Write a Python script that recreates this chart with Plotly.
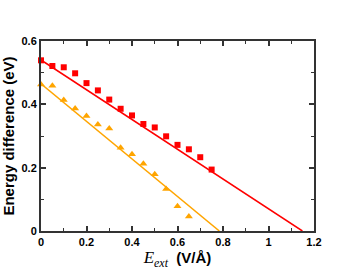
import plotly.graph_objects as go

red_x = [0.0, 0.05, 0.10, 0.15, 0.20, 0.25, 0.30, 0.35, 0.40, 0.45, 0.50, 0.55, 0.60, 0.65, 0.70, 0.75]
red_y = [0.539, 0.521, 0.517, 0.498, 0.467, 0.444, 0.415, 0.386, 0.365, 0.338, 0.327, 0.299, 0.272, 0.258, 0.233, 0.194]
orange_x = [0.0, 0.05, 0.10, 0.15, 0.20, 0.25, 0.30, 0.35, 0.40, 0.45, 0.50, 0.55, 0.60, 0.65]
orange_y = [0.463, 0.459, 0.414, 0.387, 0.363, 0.336, 0.324, 0.263, 0.242, 0.212, 0.179, 0.133, 0.078, 0.046]
red_fit_x = [0.0, 1.149]
red_fit_y = [0.54, 0.0]
orange_fit_x = [0.0, 0.784]
orange_fit_y = [0.465, 0.0]

x_ticks = [0, 0.2, 0.4, 0.6, 0.8, 1, 1.2]
x_ticklabels = ["0", "0.2", "0.4", "0.6", "0.8", "1", "1.2"]
y_ticks = [0, 0.2, 0.4, 0.6]
y_ticklabels = ["0", "0.2", "0.4", "0.6"]

RED = "#ff0000"
ORANGE = "#ffa500"

fig = go.Figure()
fig.add_trace(go.Scatter(x=red_fit_x, y=red_fit_y, mode="lines",
                         line=dict(color=RED, width=1.5), showlegend=False))
fig.add_trace(go.Scatter(x=orange_fit_x, y=orange_fit_y, mode="lines",
                         line=dict(color=ORANGE, width=1.5), showlegend=False))
fig.add_trace(go.Scatter(x=red_x, y=red_y, mode="markers",
                         marker=dict(symbol="square", size=6, color=RED), showlegend=False,
                         cliponaxis=False))
fig.add_trace(go.Scatter(x=orange_x, y=orange_y, mode="markers",
                         marker=dict(symbol="triangle-up", size=7, color=ORANGE), showlegend=False,
                         cliponaxis=False))

axis_common = dict(
    showline=True, linecolor="#333333", linewidth=2, mirror="ticks",
    ticks="inside", ticklen=5, tickwidth=1.5, tickcolor="#333333",
    showgrid=False, zeroline=False, automargin=False,
    tickfont=dict(family="Liberation Sans", size=11, color="#000000", weight="bold"),
)

fig.update_xaxes(
    range=[0, 1.2], tickvals=x_ticks, ticktext=x_ticklabels,
    minor=dict(ticks="inside", ticklen=3, tickwidth=1.2, tickcolor="#333333", dtick=0.1, tick0=0),
    title=dict(
        text="<span style='font-family:Liberation Serif;font-size:17px'><i>E<sub>ext</sub></i></span>  <b>(V/Å)</b>",
        font=dict(family="Liberation Sans", size=15, color="#000000"), standoff=5),
    **axis_common,
)
fig.update_yaxes(
    range=[0, 0.6], tickvals=y_ticks, ticktext=y_ticklabels,
    minor=dict(ticks="inside", ticklen=3, tickwidth=1.2, tickcolor="#333333", dtick=0.1, tick0=0),
    title=dict(text="<b>Energy difference (eV)</b>",
               font=dict(family="Liberation Sans", size=15, color="#000000"), standoff=5),
    **axis_common,
)

fig.update_layout(
    width=354, height=273,
    margin=dict(l=41, r=40, t=41, b=42),
    paper_bgcolor="white", plot_bgcolor="white",
)

fig.write_html("out.html", config={"displayModeBar": False},
               post_script="document.body.style.margin='0px';")
